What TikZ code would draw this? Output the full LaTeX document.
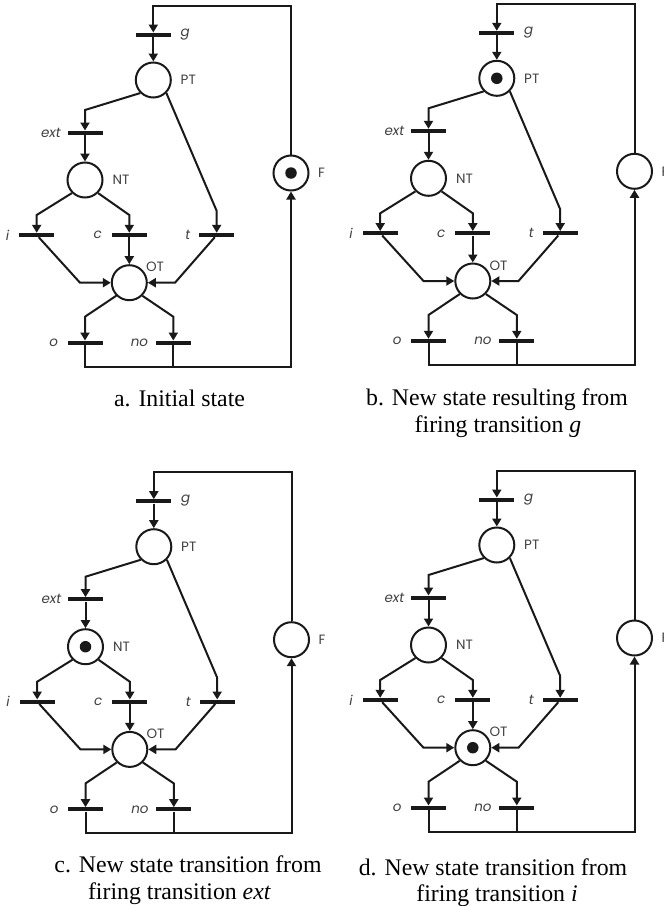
\documentclass[tikz,border=0pt]{standalone}
\usepackage{fontspec}
\setmainfont{Liberation Serif}
\newfontfamily\lblfont{Poppins}
\usetikzlibrary{arrows.meta}
\tikzset{
  pnplace/.style={circle, draw=black!90, line width=2bp, minimum size=35bp, inner sep=0pt},
  pntrans/.style={rectangle, fill=black!90, minimum width=35bp, minimum height=4bp, inner sep=0pt},
  pnarc/.style={draw=black!90, line width=2bp, -{Triangle[length=8bp,width=9bp]}},
  pnline/.style={draw=black!90, line width=2bp},
  pntoken/.style={circle, fill=black!90, minimum size=11.5bp, inner sep=0pt},
  pnlbl/.style={font=\lblfont\fontsize{13.5bp}{15bp}\selectfont, text=black!75, inner sep=0pt},
  pnilbl/.style={pnlbl, font=\lblfont\itshape\fontsize{13.5bp}{15bp}\selectfont},
  captxt/.style={font=\fontsize{23.8bp}{27bp}\selectfont, anchor=base, inner sep=0pt}
}
\newcommand\petrinet[4]{%
\begin{scope}[shift={(#2,#3)}]
  \node[pnplace] (#1PT) at (153.3,80) {};
  \node[pnplace] (#1NT) at (85,180) {};
  \node[pnplace] (#1OT) at (129.3,282.7) {};
  \node[pnplace] (#1F)  at (291,173) {};
  \node[pntrans] (#1g)   at (153.3,34.7) {};
  \node[pntrans] (#1ext) at (85,132.7) {};
  \node[pntrans] (#1i)   at (36.7,235) {};
  \node[pntrans] (#1c)   at (129.3,235) {};
  \node[pntrans] (#1t)   at (216.7,235) {};
  \node[pntrans] (#1o)   at (85,342.7) {};
  \node[pntrans] (#1no)  at (173.3,342.7) {};
  \node[pntoken] (#1tok) at (#1#4) {};
  % labels
  \node[pnilbl, anchor=west] (#1lg)   at (180.5,34.2) {g};
  \node[pnlbl,  anchor=west] (#1lPT)  at (180.5,80) {PT};
  \node[pnlbl,  anchor=west] (#1lNT)  at (112.5,180) {NT};
  \node[pnlbl,  anchor=west] (#1lF)   at (318,173) {F};
  \node[pnlbl]               (#1lOT)  at (155,267) {OT};
  \node[pnilbl, anchor=east] (#1lext) at (61,132.7) {ext};
  \node[pnilbl, anchor=east] (#1li)   at (9.5,235) {i};
  \node[pnilbl, anchor=east] (#1lc)   at (102,235) {c};
  \node[pnilbl, anchor=east] (#1lt)   at (190.5,235) {t};
  \node[pnilbl, anchor=east] (#1lo)   at (58.3,342.7) {o};
  \node[pnilbl, anchor=east] (#1lno)  at (148.3,342.7) {no};
  % arcs
  \draw[pnarc] (#1F.north) -- (291,5.7) -- (153.3,5.7) -- (#1g);
  \draw[pnarc] (#1g) -- (#1PT);
  \draw[pnarc] (#1PT.225) -- (85,110) -- (#1ext);
  \draw[pnarc] (#1ext) -- (#1NT);
  \draw[pnarc] (#1PT.-45) -- (216.7,211) -- (#1t);
  \draw[pnarc] (#1NT.225) -- (36.7,215) -- (#1i);
  \draw[pnarc] (#1NT.-45) -- (129.3,215) -- (#1c);
  \draw[pnarc] (#1c) -- (#1OT);
  \draw[pnarc] (#1i) -- (80,282.7) -- (#1OT);
  \draw[pnarc] (#1t) -- (175,282.7) -- (#1OT);
  \draw[pnarc] (#1OT.225) -- (85,316.7) -- (#1o);
  \draw[pnarc] (#1OT.-45) -- (173.3,316.7) -- (#1no);
  \draw[pnarc] (#1o) -- (85,366.7) -- (291,366.7) -- (#1F);
  \draw[pnline] (#1no) -- (173.3,366.7);
\end{scope}}
\begin{document}
\begin{tikzpicture}[x=1bp,y=-1bp]
  \useasboundingbox (0,0) rectangle (664,906);
  \petrinet{a}{0}{0}{F}
  \petrinet{b}{343.5}{-1.7}{PT}
  \petrinet{c}{0.5}{466.7}{NT}
  \petrinet{d}{343.5}{465}{OT}
  \node[captxt] (capa)  at (179.5,406.5) {a. Initial state};
  \node[captxt] (capb1) at (497,405) {b. New state resulting from};
  \node[captxt] (capb2) at (498,432) {firing transition \textit{g}};
  \node[captxt] (capc1) at (188,872.7) {c. New state transition from};
  \node[captxt] (capc2) at (179.5,899.3) {firing transition \textit{ext}};
  \node[captxt] (capd1) at (493,875) {d. New state transition from};
  \node[captxt] (capd2) at (497,901.5) {firing transition \textit{i}};
\end{tikzpicture}
\end{document}
